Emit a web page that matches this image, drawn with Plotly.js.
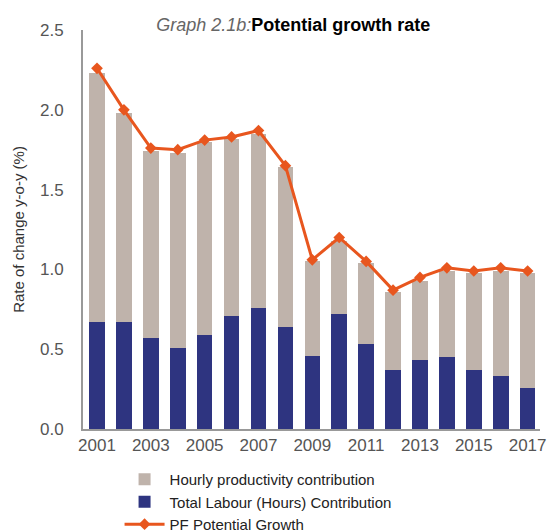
<!DOCTYPE html>
<html>
<head>
<meta charset="utf-8">
<script src="https://cdn.plot.ly/plotly-3.0.1.min.js"></script>
<style>
  body { margin: 0; background: #fff; }
  #graph { width: 548px; height: 532px; }
</style>
</head>
<body>
<div id="graph"></div>
<script>
var years = ['2001', '2002', '2003', '2004', '2005', '2006', '2007', '2008', '2009',
             '2010', '2011', '2012', '2013', '2014', '2015', '2016', '2017'];
var labour = [0.67, 0.67, 0.57, 0.51, 0.59, 0.71, 0.76, 0.64, 0.46,
              0.72, 0.53, 0.37, 0.43, 0.45, 0.37, 0.33, 0.26];
var productivity = [1.56, 1.31, 1.17, 1.22, 1.21, 1.11, 1.09, 1.00, 0.59,
                    0.46, 0.51, 0.49, 0.50, 0.54, 0.61, 0.66, 0.72];
var potential = [2.26, 2.00, 1.76, 1.75, 1.81, 1.83, 1.87, 1.65, 1.06,
                 1.20, 1.05, 0.87, 0.95, 1.01, 0.99, 1.01, 0.99];
var tickYears = ['2001', '2003', '2005', '2007', '2009', '2011', '2013', '2015', '2017'];

function drawGraph() {
    var trLabour, trProd, trLine, data, layout;

    trLabour = {
        x: years,
        y: labour,
        type: 'bar',
        name: 'Total Labour (Hours) Contribution',
        marker: {color: '#2e3480'},
        legendrank: 2
    };

    trProd = {
        x: years,
        y: productivity,
        type: 'bar',
        name: 'Hourly productivity contribution',
        marker: {color: '#bfb3ab'},
        legendrank: 1
    };

    trLine = {
        x: years,
        y: potential,
        type: 'scatter',
        mode: 'lines+markers',
        name: 'PF Potential Growth',
        line: {color: '#e8561e', width: 3},
        marker: {symbol: 'diamond', size: 9, color: '#e8561e'},
        legendrank: 3
    };

    data = [trLabour, trProd, trLine];

    layout = {
        width: 548,
        height: 532,
        margin: {l: 83, r: 8, t: 30, b: 103, autoexpand: false},
        barmode: 'stack',
        bargap: 0.42,
        font: {family: 'Liberation Sans, Arial, sans-serif', size: 17, color: '#555'},
        title: {
            text: '<i>Graph 2.1b:</i><span style="color:#000"><b>Potential growth rate</b></span>',
            font: {size: 18, color: '#666'},
            x: 0.535,
            xanchor: 'center',
            y: 0.953,
            yanchor: 'middle'
        },
        yaxis: {
            title: {text: 'Rate of change y-o-y (%)', font: {size: 15, color: '#333'}, standoff: 12},
            range: [0, 2.5],
            dtick: 0.5,
            tickformat: '.1f',
            showgrid: false,
            zeroline: false,
            showline: true,
            linecolor: '#999',
            linewidth: 2,
            ticks: '',
            ticklabelstandoff: 14,
            automargin: false
        },
        xaxis: {
            type: 'category',
            range: [-0.52, 16.46],
            tickvals: tickYears,
            ticktext: tickYears,
            tickangle: 0,
            showgrid: false,
            showline: true,
            linecolor: '#999',
            linewidth: 2,
            ticks: '',
            automargin: false
        },
        legend: {
            orientation: 'v',
            x: 0.08,
            xanchor: 'left',
            y: -0.085,
            yanchor: 'top',
            traceorder: 'normal',
            tracegroupgap: 0,
            itemwidth: 40,
            font: {size: 15, color: '#222'}
        },
        plot_bgcolor: '#fff',
        paper_bgcolor: '#fff'
    };

    Plotly.newPlot('graph', data, layout, {displayModeBar: false});
}

drawGraph();
</script>
</body>
</html>
